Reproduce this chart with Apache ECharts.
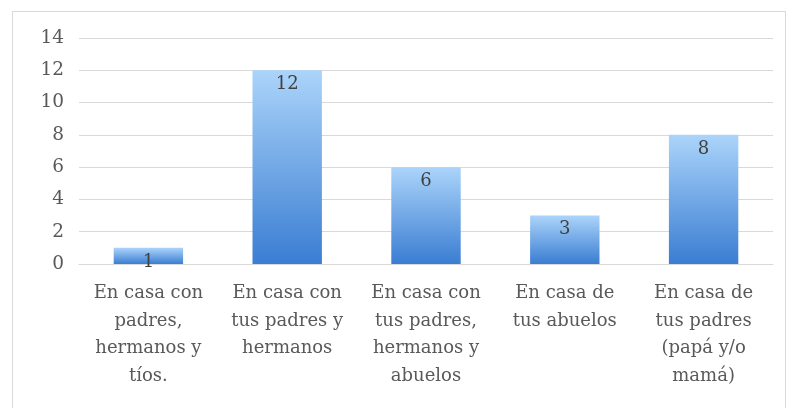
<!DOCTYPE html>
<html>
<head>
<meta charset="utf-8">
<script src="https://cdn.jsdelivr.net/npm/echarts@6/dist/echarts.min.js"></script>
<style>
  html, body { margin: 0; padding: 0; background: #fff; }
  #frame {
    position: absolute; left: 12px; top: 11px;
    width: 772px; height: 400px;
    border: 1px solid #d9d9d9;
  }
  #chart { position: absolute; left: 0; top: 0; width: 787px; height: 408px; }
</style>
</head>
<body>
<div id="frame"></div>
<div id="chart"></div>
<script>
// categorías del eje x
const categories = [
  "En casa con\npadres,\nhermanos y\ntíos.",
  "En casa con\ntus padres y\nhermanos",
  "En casa con\ntus padres,\nhermanos y\nabuelos",
  "En casa de\ntus abuelos",
  "En casa de\ntus padres\n(papá y/o\nmamá)"
];
// valores de las barras
const values = [1, 12, 6, 3, 8];
// marcas del eje y
const yMin = 0;
const yMax = 14;
const yStep = 2;

const fontFamily = "'DejaVu Serif', 'Liberation Serif', serif";

const myChart = echarts.init(document.getElementById("chart"));
const option = {
  animation: false,
  grid: { left: 79, right: 14, top: 38, bottom: 144 },
  xAxis: {
    type: "category",
    data: categories,
    axisLine: { show: true, lineStyle: { color: "#d9d9d9", width: 1 } },
    axisTick: { show: false },
    axisLabel: {
      interval: 0,
      margin: 16,
      color: "#595959",
      fontFamily: fontFamily,
      fontSize: 18,
      lineHeight: 27.5
    }
  },
  yAxis: {
    type: "value",
    min: yMin,
    max: yMax,
    interval: yStep,
    axisLine: { show: false },
    axisTick: { show: false },
    axisLabel: {
      margin: 15,
      color: "#595959",
      fontFamily: fontFamily,
      fontSize: 18.5
    },
    splitLine: { lineStyle: { color: "#d9d9d9", width: 1 } }
  },
  series: [
    {
      type: "bar",
      data: values,
      barWidth: "50%",
      itemStyle: {
        color: {
          type: "linear",
          x: 0, y: 0, x2: 0, y2: 1,
          colorStops: [
            { offset: 0, color: "#abd4fa" },
            { offset: 1, color: "#3a7dd2" }
          ]
        }
      },
      label: {
        show: true,
        position: "insideTop",
        distance: 5,
        color: "#404040",
        fontFamily: fontFamily,
        fontSize: 18
      }
    }
  ]
};
myChart.setOption(option);
</script>
</body>
</html>
